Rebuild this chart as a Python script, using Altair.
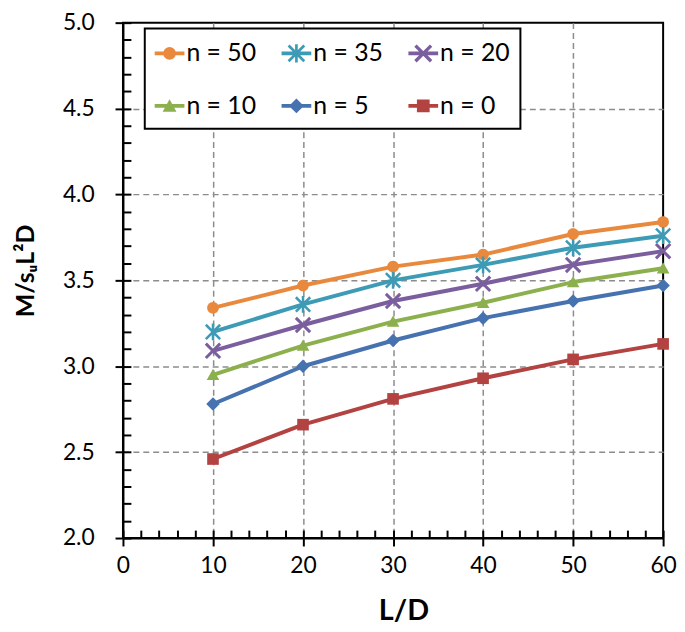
import math
import altair as alt
import pandas as pd

# ---------------- data ----------------
ld_values = [10, 20, 30, 40, 50, 60]
series_names = ["n = 50", "n = 35", "n = 20", "n = 10", "n = 5", "n = 0"]
n50 = [3.34, 3.47, 3.58, 3.65, 3.77, 3.84]
n35 = [3.20, 3.36, 3.50, 3.59, 3.69, 3.76]
n20 = [3.09, 3.24, 3.38, 3.48, 3.59, 3.67]
n10 = [2.95, 3.12, 3.26, 3.37, 3.49, 3.57]
n5 = [2.78, 3.00, 3.15, 3.28, 3.38, 3.47]
n0 = [2.46, 2.66, 2.81, 2.93, 3.04, 3.13]
series_colors = ["#E8893E", "#3E9BB5", "#7A5E9E", "#8CB04D", "#4673B0", "#B24341"]

x_major = [0, 10, 20, 30, 40, 50, 60]
y_major = [2.0, 2.5, 3.0, 3.5, 4.0, 4.5, 5.0]
x_grid = [10, 20, 30, 40, 50]
y_grid = [2.5, 3.0, 3.5, 4.0, 4.5]
x_minor = [2 * i for i in range(31)]
y_minor = [round(2 + 0.1 * i, 1) for i in range(31)]

rows = []
for name, vals in zip(series_names, [n50, n35, n20, n10, n5, n0]):
    for x, y in zip(ld_values, vals):
        rows.append({"LD": x, "M": y, "series": name})
df = pd.DataFrame(rows)


# ---------------- marker shapes (SVG paths in unit box) ----------------
def poly(points):
    n = len(points)
    a = sum(points[i][0] * points[(i + 1) % n][1] - points[(i + 1) % n][0] * points[i][1] for i in range(n))
    if a > 0:
        points = points[::-1]
    return "M" + "L".join(f"{x:.3f},{y:.3f}" for x, y in points) + "Z"


def seg(x1, y1, x2, y2, w):
    dx, dy = x2 - x1, y2 - y1
    ln = math.hypot(dx, dy)
    nx, ny = -dy / ln * w, dx / ln * w
    return poly([(x1 + nx, y1 + ny), (x2 + nx, y2 + ny), (x2 - nx, y2 - ny), (x1 - nx, y1 - ny)])


def circle(r):
    return poly([(r * math.cos(2 * math.pi * k / 28), r * math.sin(2 * math.pi * k / 28)) for k in range(28)])


def marker_paths(s, wa, wx):
    return [
        circle(0.69 * s),
        seg(-0.85 * s, -0.85 * s, 0.85 * s, 0.85 * s, wa) + seg(-0.85 * s, 0.85 * s, 0.85 * s, -0.85 * s, wa)
        + seg(0, -1.0 * s, 0, 1.0 * s, wa),
        seg(-0.85 * s, -0.85 * s, 0.85 * s, 0.85 * s, wx) + seg(-0.85 * s, 0.85 * s, 0.85 * s, -0.85 * s, wx),
        poly([(0, -0.72 * s), (0.75 * s, 0.62 * s), (-0.75 * s, 0.62 * s)]),
        poly([(0, -0.8 * s), (0.8 * s, 0), (0, 0.8 * s), (-0.8 * s, 0)]),
        poly([(-0.69 * s, -0.69 * s), (0.69 * s, -0.69 * s), (0.69 * s, 0.69 * s), (-0.69 * s, 0.69 * s)]),
    ]


plot_shapes = marker_paths(1.0, 0.15, 0.18)
legend_line = seg(-1, 0, 1, 0, 0.13)
legend_shapes = [legend_line + p for p in marker_paths(0.62, 0.09, 0.11)]

FONT = "Lato, DejaVu Sans"

xs = alt.Scale(domain=[0, 60], nice=False, zero=False)
ys = alt.Scale(domain=[2, 5], nice=False, zero=False)

W, H = 545, 520

x_main_axis = alt.Axis(
    orient="bottom", values=x_major, grid=False, tickSize=8, tickWidth=2, tickColor="black",
    domainColor="black", domainWidth=2, labelFont=FONT, labelFontSize=23, labelColor="black",
    labelPadding=9, labelFlush=False, labelOverlap=False,
    title="L/D", titleFont=FONT, titleFontSize=29, titleFontWeight="bold",
    titleColor="black", titleX=283, titleY=82, titleBaseline="alphabetic", titleAlign="center",
)
y_main_axis = alt.Axis(
    orient="left", values=y_major, format=".1f", grid=False, tickSize=8, tickWidth=2, tickColor="black",
    domainColor="black", domainWidth=2, labelFont=FONT, labelFontSize=23, labelColor="black",
    labelPadding=21, labelFlush=False, labelOverlap=False,
    title="M/sᵤL²D", titleFont=FONT, titleFontSize=25, titleFontWeight="bold",
    titleColor="black", titleX=-90, titleY=250, titleBaseline="alphabetic", titleAlign="center",
    titleAngle=270,
)

base = alt.Chart(df)

lines = base.mark_line(strokeWidth=4, strokeJoin="round", strokeCap="round").encode(
    x=alt.X("LD:Q", scale=xs, axis=x_main_axis),
    y=alt.Y("M:Q", scale=ys, axis=y_main_axis),
    color=alt.Color("series:N", scale=alt.Scale(domain=series_names, range=series_colors),
                    sort=series_names, legend=None),
    detail="series:N",
)

points = base.mark_point(filled=True, opacity=1, size=289, strokeWidth=0).encode(
    x=alt.X("LD:Q", scale=xs),
    y=alt.Y("M:Q", scale=ys),
    color=alt.Color("series:N", scale=alt.Scale(domain=series_names, range=series_colors),
                    sort=series_names, legend=None),
    shape=alt.Shape("series:N", scale=alt.Scale(domain=series_names, range=plot_shapes),
                    sort=series_names, legend=None),
)

legend_props = dict(
    title=None, orient="none", legendX=22, legendY=6, columns=3, direction="horizontal",
    symbolSize=900, symbolStrokeWidth=0, symbolOpacity=1, labelFont=FONT, labelFontSize=25,
    labelColor="black", labelOffset=2, columnPadding=25, rowPadding=25, padding=10,
    strokeColor="black", fillColor="white",
)

legend_layer = base.mark_point(filled=True, opacity=1, size=900, strokeWidth=0).transform_filter(
    "false"
).encode(
    x=alt.X("LD:Q", scale=xs),
    y=alt.Y("M:Q", scale=ys),
    color=alt.Color("series:N", scale=alt.Scale(domain=series_names, range=series_colors),
                    sort=series_names, legend=alt.Legend(**legend_props)),
    shape=alt.Shape("series:N", scale=alt.Scale(domain=series_names, range=legend_shapes),
                    sort=series_names, legend=alt.Legend(**legend_props)),
)

main = alt.layer(lines, points, legend_layer).resolve_scale(shape="independent", color="independent")

inner_ticks = base.mark_point(opacity=0).transform_filter("false").encode(
    x=alt.X("LD:Q", scale=xs, axis=alt.Axis(
        orient="top", offset=-H, values=x_minor, tickSize=8, tickWidth=2, tickColor="black",
        domain=False, labels=False, grid=False, title=None)),
    y=alt.Y("M:Q", scale=ys, axis=alt.Axis(
        orient="right", offset=-W, values=y_minor, tickSize=8, tickWidth=2, tickColor="black",
        domain=False, labels=False, grid=False, title=None)),
)

grid_layer = base.mark_point(opacity=0).transform_filter("false").encode(
    x=alt.X("LD:Q", scale=xs, axis=alt.Axis(
        orient="bottom", values=x_grid, grid=True, gridColor="#8C8C8C", gridDash=[6, 4],
        gridWidth=1.5, ticks=False, labels=False, domain=False, title=None)),
    y=alt.Y("M:Q", scale=ys, axis=alt.Axis(
        orient="left", values=y_grid, grid=True, gridColor="#8C8C8C", gridDash=[6, 4],
        gridWidth=1.5, ticks=False, labels=False, domain=False, title=None)),
)

chart = alt.layer(grid_layer, main, inner_ticks).resolve_scale(
    x="independent", y="independent"
).properties(
    width=W, height=H,
    autosize=alt.AutoSizeParams(type="none"),
    padding={"left": 116, "top": 12, "right": 14, "bottom": 92},
    background="white",
).configure_view(stroke="black", strokeWidth=2).configure_legend(strokeWidth=2)

chart.save("out.html", embed_options={"renderer": "svg", "actions": False})
